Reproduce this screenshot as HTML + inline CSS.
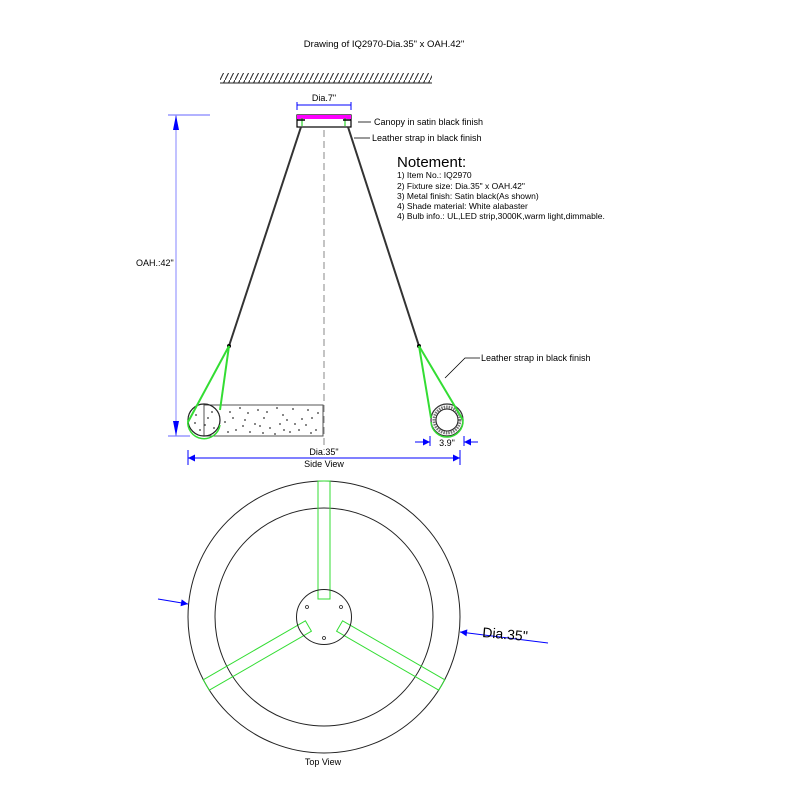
<!DOCTYPE html>
<html><head><meta charset="utf-8"><style>
html,body{margin:0;padding:0;background:#fff;}
svg{display:block;font-family:"Liberation Sans",sans-serif;}
</style></head><body>
<svg width="800" height="800" viewBox="0 0 800 800" xmlns="http://www.w3.org/2000/svg">
<defs>
<pattern id="h" width="5" height="10" patternUnits="userSpaceOnUse">
<line x1="0" y1="10" x2="5" y2="0" stroke="#222" stroke-width="1"/>
</pattern>
<marker id="a" viewBox="0 0 10 10" refX="10" refY="5" markerWidth="16" markerHeight="7" orient="auto-start-reverse" markerUnits="userSpaceOnUse">
<path d="M0,0L10,5L0,10z" fill="#00f"/>
</marker>
</defs>
<text x="384" y="47" font-size="9.5" text-anchor="middle" fill="#000">Drawing of IQ2970-Dia.35" x OAH.42"</text>
<rect x="220" y="73" width="212" height="10" fill="url(#h)"/>
<line x1="220" y1="83" x2="432" y2="83" stroke="#222"/>
<!-- Dia 7 -->
<line x1="297" y1="105" x2="351" y2="105" stroke="#00f"/>
<line x1="297" y1="102" x2="297" y2="110" stroke="#00f"/>
<line x1="351" y1="102" x2="351" y2="110" stroke="#00f"/>
<text x="324" y="101" font-size="9" text-anchor="middle">Dia.7"</text>
<!-- canopy -->
<rect x="297" y="115" width="54" height="12" fill="#fff" stroke="#000" stroke-width="1.2"/>
<line x1="297" y1="117" x2="351" y2="117" stroke="#f0f" stroke-width="4"/>
<line x1="302" y1="118" x2="302" y2="126" stroke="#0c0"/>
<line x1="345" y1="118" x2="345" y2="126" stroke="#0c0"/>
<line x1="297" y1="120" x2="305" y2="120" stroke="#000" stroke-width="1.5"/>
<line x1="343" y1="120" x2="351" y2="120" stroke="#000" stroke-width="1.5"/>
<line x1="358" y1="122" x2="371" y2="122" stroke="#000" stroke-width="0.8"/>
<text x="374" y="125" font-size="9">Canopy in satin black finish</text>
<line x1="354" y1="138" x2="370" y2="138" stroke="#000" stroke-width="0.8"/>
<text x="372" y="141" font-size="9">Leather strap in black finish</text>
<!-- center dashed -->
<line x1="324" y1="130" x2="324" y2="450" stroke="#888" stroke-dasharray="7,4"/>
<!-- strap cables -->
<line x1="301" y1="127" x2="229" y2="346" stroke="#333" stroke-width="2"/>
<line x1="348" y1="127" x2="419" y2="346" stroke="#333" stroke-width="2"/>
<circle cx="229" cy="346" r="2" fill="#000"/>
<circle cx="419" cy="346" r="2" fill="#000"/>
<!-- OAH -->
<line x1="168" y1="115" x2="210" y2="115" stroke="#66f"/>
<line x1="176" y1="115" x2="176" y2="436" stroke="#99f" stroke-width="1.2"/>
<path d="M176,115l-3,15h6z" fill="#00f"/>
<path d="M176,436l-3,-15h6z" fill="#00f"/>
<line x1="168" y1="436" x2="190" y2="436" stroke="#66f"/>
<text x="136" y="266" font-size="9">OAH.:42"</text>
<!-- Notement -->
<text x="397" y="167" font-size="15">Notement:</text>
<g font-size="8.5">
<text x="397" y="178">1) Item No.: IQ2970</text>
<text x="397" y="189">2) Fixture size: Dia.35" x OAH.42"</text>
<text x="397" y="199">3) Metal finish: Satin black(As shown)</text>
<text x="397" y="209">4) Shade material: White alabaster</text>
<text x="397" y="219">4) Bulb info.: UL,LED strip,3000K,warm light,dimmable.</text>
</g>
<!-- tube -->
<rect x="204" y="405" width="119" height="31" fill="#fff" stroke="#555"/>
<g fill="#333">
<circle cx="230" cy="412" r=".9"/><circle cx="245" cy="420" r=".9"/><circle cx="258" cy="410" r=".9"/><circle cx="270" cy="428" r=".9"/><circle cx="283" cy="415" r=".9"/><circle cx="295" cy="424" r=".9"/><circle cx="308" cy="410" r=".9"/><circle cx="316" cy="430" r=".9"/><circle cx="236" cy="430" r=".9"/><circle cx="250" cy="432" r=".9"/><circle cx="264" cy="418" r=".9"/><circle cx="277" cy="408" r=".9"/><circle cx="290" cy="432" r=".9"/><circle cx="302" cy="419" r=".9"/><circle cx="225" cy="422" r=".9"/><circle cx="240" cy="408" r=".9"/><circle cx="260" cy="426" r=".9"/><circle cx="287" cy="420" r=".9"/><circle cx="312" cy="418" r=".9"/><circle cx="275" cy="434" r=".9"/>
<circle cx="233" cy="418" r=".9"/><circle cx="248" cy="413" r=".9"/><circle cx="255" cy="424" r=".9"/><circle cx="267" cy="412" r=".9"/><circle cx="280" cy="424" r=".9"/><circle cx="293" cy="409" r=".9"/><circle cx="299" cy="430" r=".9"/><circle cx="306" cy="425" r=".9"/><circle cx="318" cy="413" r=".9"/><circle cx="243" cy="426" r=".9"/><circle cx="228" cy="432" r=".9"/><circle cx="263" cy="433" r=".9"/><circle cx="284" cy="430" r=".9"/><circle cx="311" cy="433" r=".9"/>
<circle cx="196" cy="415" r=".9"/><circle cx="205" cy="425" r=".9"/><circle cx="212" cy="412" r=".9"/><circle cx="200" cy="430" r=".9"/><circle cx="214" cy="428" r=".9"/><circle cx="208" cy="418" r=".9"/><circle cx="195" cy="423" r=".9"/>
</g>
<circle cx="204" cy="420" r="16" fill="none" stroke="#222" stroke-width="1.2"/>
<!-- right ring -->
<circle cx="447" cy="420" r="16" fill="none" stroke="#333" stroke-width="1.2"/>
<circle cx="447" cy="420" r="13" fill="none" stroke="#777" stroke-width="3" stroke-dasharray="1.5,1"/>
<circle cx="447" cy="420" r="11" fill="#fff" stroke="#222" stroke-width="1"/>
<!-- green straps -->
<g stroke="#3d3" stroke-width="2" fill="none">
<path d="M229,346L188,422"/>
<path d="M229,346L220,410"/>
<path d="M188,420A16,16 0 0 0 220,425" stroke-width="1.5"/>
<path d="M419,346L431,418"/>
<path d="M419,346L463,420"/>
<path d="M431,422A16,16 0 0 0 463,420" stroke-width="1.5"/>
</g>
<polyline points="445,378 465,358 480,358" fill="none" stroke="#000" stroke-width="0.8"/>
<text x="481" y="361" font-size="9">Leather strap in black finish</text>
<!-- 3.9 -->
<line x1="415" y1="442" x2="430" y2="442" stroke="#00f" marker-end="url(#a)"/>
<line x1="478" y1="442" x2="464" y2="442" stroke="#00f" marker-end="url(#a)"/>
<line x1="430" y1="436" x2="430" y2="446" stroke="#00f"/>
<line x1="464" y1="436" x2="464" y2="446" stroke="#00f"/>
<text x="447" y="446" font-size="9" text-anchor="middle">3.9"</text>
<!-- Dia 35 side -->
<line x1="188" y1="458" x2="460" y2="458" stroke="#00f" marker-start="url(#a)" marker-end="url(#a)"/>
<line x1="188" y1="450" x2="188" y2="465" stroke="#00f"/>
<line x1="460" y1="450" x2="460" y2="465" stroke="#00f"/>
<text x="324" y="455" font-size="9" text-anchor="middle">Dia.35"</text>
<text x="324" y="467" font-size="9" text-anchor="middle">Side View</text>
<!-- top view -->
<circle cx="324" cy="617" r="136" fill="none" stroke="#222"/>
<circle cx="324" cy="617" r="109" fill="none" stroke="#222"/>
<g fill="none" stroke="#3d3" stroke-width="1">
<rect x="318" y="481" width="12" height="118" transform="rotate(0 324 617)"/>
<rect x="318" y="481" width="12" height="118" transform="rotate(120 324 617)"/>
<rect x="318" y="481" width="12" height="118" transform="rotate(240 324 617)"/>
</g>
<circle cx="324" cy="617" r="27.5" fill="none" stroke="#222"/>
<g fill="none" stroke="#222" stroke-width="0.8">
<circle cx="307" cy="607" r="1.5"/><circle cx="341" cy="607" r="1.5"/><circle cx="324" cy="638" r="1.5"/>
</g>
<line x1="158" y1="599" x2="188" y2="604" stroke="#00f" marker-end="url(#a)"/>
<line x1="548" y1="643" x2="460" y2="632" stroke="#00f" marker-end="url(#a)"/>
<text x="482" y="637" font-size="14" transform="rotate(5 482 637)">Dia.35"</text>
<text x="323" y="765" font-size="9" text-anchor="middle">Top View</text>
</svg>
</body></html>
